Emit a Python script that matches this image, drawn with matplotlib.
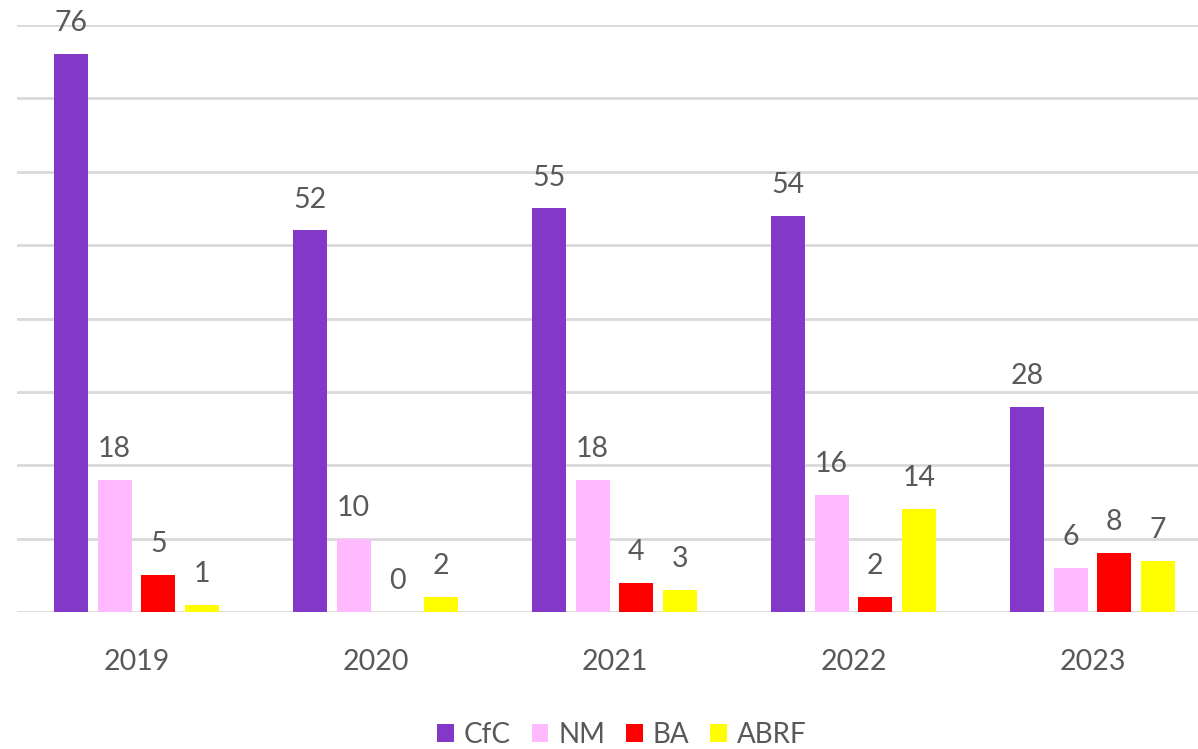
import matplotlib
matplotlib.use("Agg")
import matplotlib.pyplot as plt
import numpy as np

years = ["2019", "2020", "2021", "2022", "2023"]
series_names = ["CfC", "NM", "BA", "ABRF"]
cfc = [76, 52, 55, 54, 28]
nm = [18, 10, 18, 16, 6]
ba = [5, 0, 4, 2, 8]
abrf = [1, 2, 3, 14, 7]
colors = ["#8338C8", "#FFB9FF", "#FF0000", "#FFFF00"]

plt.rcParams['font.family'] = ['Lato', 'DejaVu Sans']
text_color = "#595959"

fig = plt.figure(figsize=(11.98, 7.49), dpi=100)
W, H = 1198, 749
left, right = 17, 1212
bottom, top = 612, 25
ax = fig.add_axes([left / W, 1 - bottom / H, (right - left) / W, (bottom - top) / H])

x = np.arange(len(years))
step = 0.183
width = 0.142
all_series = [cfc, nm, ba, abrf]
for i, (name, vals, c) in enumerate(zip(series_names, all_series, colors)):
    pos = x + (i - 1.5) * step
    ax.bar(pos, vals, width=width, color=c, label=name, zorder=3)
    for xp, v in zip(pos, vals):
        ax.annotate(str(v), (xp, v), xytext=(0, 16.5), textcoords='offset points',
                    ha='center', va='baseline', fontsize=20.5, color=text_color,
                    annotation_clip=False)

ax.set_xlim(-0.5, 4.5)
ax.set_ylim(0, 80)
ax.set_yticks(np.arange(0, 81, 10))
ax.yaxis.grid(True, color="#D9D9D9", linewidth=2, zorder=0)
ax.set_axisbelow(True)
ax.tick_params(axis='y', left=False, labelleft=False)
ax.tick_params(axis='x', bottom=False, pad=23, labelsize=20.5, labelcolor=text_color)
ax.set_xticks(x)
ax.set_xticklabels(years)
for s in ax.spines.values():
    s.set_visible(False)

leg = fig.legend(loc='center', bbox_to_anchor=(0.519, 0.019), ncol=4, frameon=False,
                 fontsize=20, handlelength=0.6, handleheight=0.6, handletextpad=0.36,
                 columnspacing=0.75, labelcolor=text_color)

fig.savefig("out.png", dpi=100)
